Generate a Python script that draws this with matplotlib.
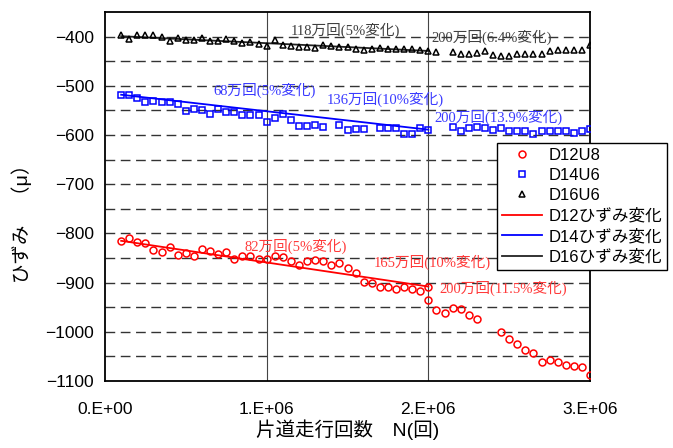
"""
Strain vs. number of one-way passes for D12U8 / D14U6 / D16U6.
"""

import matplotlib
import matplotlib.pyplot as plt
from matplotlib.ticker import FuncFormatter, MultipleLocator

matplotlib.use("Agg")

JP_SANS = ["Liberation Sans", "Noto Sans CJK JP"]
JP_SERIF = ["Liberation Serif", "Noto Sans CJK JP"]

# passes, in millions
n_d12 = [0.10, 0.15, 0.20, 0.25, 0.30, 0.35, 0.40, 0.45, 0.50, 0.55,
         0.60, 0.65, 0.70, 0.75, 0.80, 0.85, 0.90, 0.95, 1.00, 1.05,
         1.10, 1.15, 1.20, 1.25, 1.30, 1.35, 1.40, 1.45, 1.50, 1.55,
         1.60, 1.65, 1.70, 1.75, 1.80, 1.85, 1.90, 1.95, 2.00, 2.00,
         2.05, 2.10, 2.15, 2.20, 2.25, 2.30, 2.45, 2.50, 2.55, 2.60,
         2.65, 2.70, 2.75, 2.80, 2.85, 2.90, 2.95, 3.00]
d12u8 = [-815, -810, -817, -819, -833, -837, -828, -843, -840, -845,
         -831, -835, -841, -837, -851, -846, -845, -853, -851, -845,
         -848, -856, -865, -856, -855, -856, -865, -860, -871, -881,
         -899, -901, -909, -908, -913, -908, -913, -918, -908, -936,
         -956, -961, -951, -954, -966, -974, -1001, -1015, -1024, -1037,
         -1044, -1062, -1057, -1061, -1067, -1070, -1072, -1087]

n_d14 = [0.10, 0.15, 0.20, 0.25, 0.30, 0.35, 0.40, 0.45, 0.50, 0.55,
         0.60, 0.65, 0.70, 0.75, 0.80, 0.85, 0.90, 0.95, 1.00, 1.05,
         1.10, 1.15, 1.20, 1.25, 1.30, 1.35, 1.45, 1.50, 1.55, 1.60,
         1.70, 1.75, 1.80, 1.85, 1.90, 1.95, 2.00, 2.15, 2.20, 2.25,
         2.30, 2.35, 2.40, 2.45, 2.50, 2.55, 2.60, 2.65, 2.70, 2.75,
         2.80, 2.85, 2.90, 2.95, 3.00]
d14u6 = [-518, -518, -525, -533, -531, -533, -533, -537, -551, -548,
         -550, -558, -548, -553, -553, -560, -560, -560, -574, -566,
         -558, -569, -581, -581, -580, -583, -580, -590, -588, -588,
         -586, -586, -586, -597, -597, -585, -590, -583, -591, -586,
         -584, -585, -590, -586, -591, -591, -591, -597, -591, -591,
         -591, -591, -596, -591, -588]

n_d16 = [0.10, 0.15, 0.20, 0.25, 0.30, 0.35, 0.40, 0.45, 0.50, 0.55,
         0.60, 0.65, 0.70, 0.75, 0.80, 0.85, 0.90, 0.95, 1.00, 1.05,
         1.10, 1.15, 1.20, 1.25, 1.30, 1.35, 1.40, 1.45, 1.50, 1.55,
         1.60, 1.65, 1.70, 1.75, 1.80, 1.85, 1.90, 1.95, 2.00, 2.05,
         2.15, 2.20, 2.25, 2.30, 2.35, 2.40, 2.45, 2.50, 2.55, 2.60,
         2.65, 2.70, 2.75, 2.80, 2.85, 2.90, 2.95, 3.00]
d16u6 = [-397, -404, -397, -397, -397, -401, -409, -403, -407, -407,
         -402, -409, -409, -405, -409, -413, -410, -414, -418, -407,
         -416, -418, -420, -420, -423, -417, -419, -420, -420, -426,
         -427, -425, -423, -425, -425, -425, -425, -427, -430, -431,
         -431, -435, -435, -433, -429, -438, -440, -440, -435, -435,
         -435, -435, -429, -428, -428, -427, -427, -416]

# straight strain-change lines, 0.1M to 2.0M passes
n_trend = [0.10, 2.00]
d12_trend = [-815, -908]
d14_trend = [-518, -589]
d16_trend = [-399, -429]

# (text, passes in millions, strain) for each note
notes_d12 = [("82万回(5%変化)", 0.86, -827), ("165万回(10%変化)", 1.66, -859),
             ("200万回(11.5%変化)", 2.07, -912)]
notes_d14 = [("68万回(5%変化)", 0.67, -510), ("136万回(10%変化)", 1.37, -528),
             ("200万回(13.9%変化)", 2.035, -565)]
notes_d16 = [("118万回(5%変化)", 1.15, -388), ("200万回(6.4%変化)", 2.02, -401)]


def mil(xs):
    return [x * 1e6 for x in xs]


fig = plt.figure(figsize=(6.73, 4.48), dpi=100)
ax = fig.add_axes([0.156, 0.1496, 0.7207, 0.8234])

ax.set_xlim(0, 3e6)
ax.set_ylim(-1100, -350)

# gridlines: dashed every 50, solid verticals at 1M / 2M
for y in range(-1050, -350, 50):
    ax.axhline(y, color="#333333", lw=1.0, ls=(0, (7, 4)), zorder=1)
for x in (1e6, 2e6):
    ax.axvline(x, color="#444444", lw=0.8, zorder=1)

mk = dict(ls="none", mfc="none", mew=1.1, zorder=3)
ax.plot(mil(n_d12), d12u8, marker="o", ms=5, mec="#ff0000", label="D12U8", **mk)
ax.plot(mil(n_d14), d14u6, marker="s", ms=5, mec="#0000ff", label="D14U6", **mk)
ax.plot(mil(n_d16), d16u6, marker="^", ms=4.5, mec="black", label="D16U6", **mk)

ax.plot(mil(n_trend), d12_trend, color="#ff0000", lw=1.3, label="D12ひずみ変化", zorder=2)
ax.plot(mil(n_trend), d14_trend, color="#0000ff", lw=1.3, label="D14ひずみ変化", zorder=2)
ax.plot(mil(n_trend), d16_trend, color="#222222", lw=1.3, label="D16ひずみ変化", zorder=2)

for notes, col in ((notes_d12, "#ff3a3a"), (notes_d14, "#3a3aff"), (notes_d16, "#404040")):
    for txt, n, s in notes:
        ax.text(n * 1e6, s, txt, color=col, fontsize=10.5, family=JP_SERIF,
                ha="left", va="center", zorder=4)

ax.xaxis.set_major_locator(MultipleLocator(1e6))
ax.xaxis.set_major_formatter(FuncFormatter(lambda v, _: f"{v / 1e6:.0f}.E+{6 if v else 0:02d}"))
ax.yaxis.set_major_locator(MultipleLocator(100))
ax.tick_params(axis="both", length=0, labelsize=12.5)
ax.tick_params(axis="x", pad=15)
ax.tick_params(axis="y", pad=8)
for lab in ax.get_xticklabels() + ax.get_yticklabels():
    lab.set_family(JP_SANS)

for sp in ax.spines.values():
    sp.set_color("black")
    sp.set_linewidth(1.3)

ax.set_xlabel("片道走行回数　N(回)", fontsize=14, family=JP_SANS, labelpad=2)
ax.set_ylabel("ひずみ　（μ）", fontsize=14, family=JP_SANS)
ax.yaxis.set_label_coords(-0.15, 0.44)

leg = fig.legend(loc="upper left", bbox_to_anchor=(0.7385, 0.681), fancybox=False,
                 framealpha=1, edgecolor="black", borderpad=0.3, labelspacing=0.3,
                 handlelength=2.4, handletextpad=0.4, borderaxespad=0,
                 prop={"family": JP_SANS, "size": 12})
leg.get_frame().set_linewidth(1.0)

fig.savefig("out.png", dpi=100)
